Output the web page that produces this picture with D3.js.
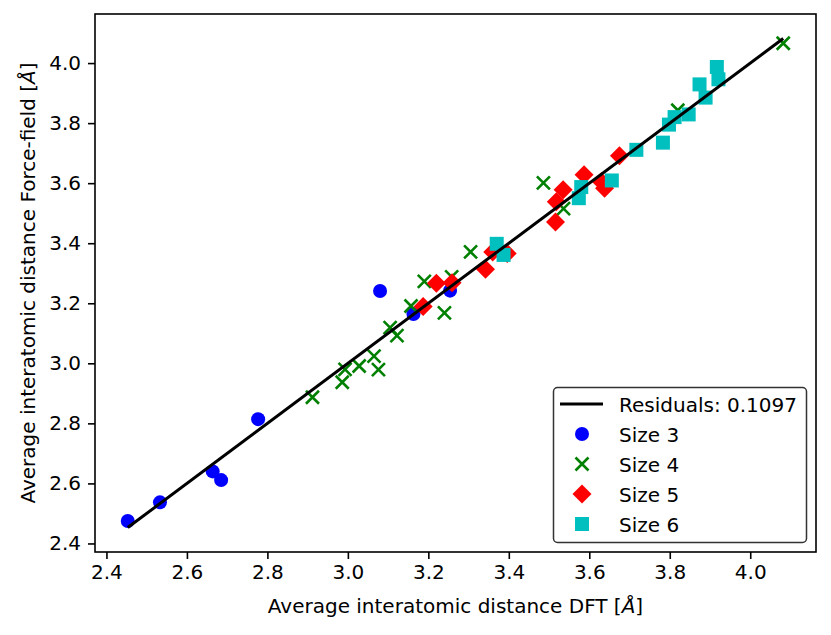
<!DOCTYPE html>
<html>
<head>
<meta charset="utf-8">
<title>Force-field vs DFT interatomic distance</title>
<script src="https://d3js.org/d3.v7.min.js"></script>
<style>
  body { margin: 0; background: #fff; }
  text { font-family: "DejaVu Sans", sans-serif; fill: #000; }
</style>
</head>
<body>
<script>
// values
var size3X = [2.453, 2.533, 2.664, 2.685, 2.777, 3.080, 3.163, 3.254];
var size3Y = [2.475, 2.537, 2.640, 2.611, 2.814, 3.241, 3.164, 3.242];

var size4X = [2.912, 2.986, 2.993, 3.028, 3.065, 3.076, 3.105, 3.122, 3.157, 3.190,
              3.240, 3.258, 3.305, 3.486, 3.536, 3.820, 4.082];
var size4Y = [2.887, 2.937, 2.980, 2.991, 3.024, 2.979, 3.119, 3.092, 3.191, 3.273,
              3.168, 3.288, 3.371, 3.601, 3.515, 3.843, 4.066];

var size5X = [3.187, 3.220, 3.259, 3.342, 3.360, 3.396, 3.516, 3.518, 3.535, 3.587,
              3.630, 3.638, 3.675];
var size5Y = [3.189, 3.267, 3.268, 3.313, 3.371, 3.366, 3.471, 3.538, 3.578, 3.628,
              3.605, 3.583, 3.691];

var size6X = [3.370, 3.387, 3.574, 3.580, 3.656, 3.717, 3.783, 3.798, 3.812, 3.847,
              3.874, 3.889, 3.917, 3.921];
var size6Y = [3.398, 3.361, 3.550, 3.587, 3.609, 3.711, 3.735, 3.795, 3.820, 3.829,
              3.929, 3.885, 3.987, 3.946];

var lineX = [2.453, 4.082];
var lineY = [2.453, 4.082];

var tickValues = [2.4, 2.6, 2.8, 3.0, 3.2, 3.4, 3.6, 3.8, 4.0];
var legendLabels = ["Residuals: 0.1097", "Size 3", "Size 4", "Size 5", "Size 6"];

var W = 831, H = 635;
var margin = { top: 14, right: 15, bottom: 83, left: 95 };
var width = W - margin.left - margin.right;
var height = H - margin.top - margin.bottom;

var svg = d3.select("body").append("svg")
    .attr("width", W)
    .attr("height", H);

var g = svg.append("g")
    .attr("transform", "translate(" + margin.left + "," + margin.top + ")");

// matplotlib style 5% padding around the data
function padded(arrs) {
    var all = [].concat.apply([], arrs);
    var ext = d3.extent(all);
    var pad = (ext[1] - ext[0]) * 0.05;
    return [ext[0] - pad, ext[1] + pad];
}

var x = d3.scaleLinear()
    .domain(padded([size3X, size4X, size5X, size6X, lineX]))
    .range([0, width]);
var y = d3.scaleLinear()
    .domain(padded([size3Y, size4Y, size5Y, size6Y, lineY]))
    .range([height, 0]);

var fmt = d3.format(".1f");

var xAxis = g.append("g")
    .attr("transform", "translate(0," + height + ")")
    .call(d3.axisBottom(x).tickValues(tickValues).tickFormat(fmt).tickSize(7).tickPadding(6));
var yAxis = g.append("g")
    .call(d3.axisLeft(y).tickValues(tickValues).tickFormat(fmt).tickSize(7).tickPadding(7));

[xAxis, yAxis].forEach(function(ax) {
    ax.select(".domain").remove();
    ax.selectAll(".tick line").attr("stroke", "#000").attr("stroke-width", 1.6);
    ax.selectAll(".tick text")
        .style("font-family", "DejaVu Sans")
        .style("font-size", "20px")
        .attr("fill", "#000");
});

// markers
var colors = { s3: "#0000ff", s4: "#008000", s5: "#ff0000", s6: "#00bfbf" };

function circle(sel, cx, cy) {
    sel.append("circle").attr("cx", cx).attr("cy", cy).attr("r", 7)
        .attr("fill", colors.s3);
}
function cross(sel, cx, cy) {
    var r = 6.5;
    sel.append("path")
        .attr("d", "M" + (cx - r) + "," + (cy - r) + "L" + (cx + r) + "," + (cy + r) +
                   "M" + (cx - r) + "," + (cy + r) + "L" + (cx + r) + "," + (cy - r))
        .attr("stroke", colors.s4).attr("stroke-width", 2.6).attr("fill", "none");
}
function diamond(sel, cx, cy) {
    var r = 9.5;
    sel.append("path")
        .attr("d", "M" + cx + "," + (cy - r) + "L" + (cx + r) + "," + cy +
                   "L" + cx + "," + (cy + r) + "L" + (cx - r) + "," + cy + "Z")
        .attr("fill", colors.s5);
}
function square(sel, cx, cy) {
    sel.append("rect").attr("x", cx - 7).attr("y", cy - 7)
        .attr("width", 14).attr("height", 14)
        .attr("fill", colors.s6);
}

var pts = g.append("g");
size3X.forEach(function(v, i) { circle(pts, x(v), y(size3Y[i])); });
size4X.forEach(function(v, i) { cross(pts, x(v), y(size4Y[i])); });
size5X.forEach(function(v, i) { diamond(pts, x(v), y(size5Y[i])); });
size6X.forEach(function(v, i) { square(pts, x(v), y(size6Y[i])); });

// ideal line on top
var line = d3.line()
    .x(function(d) { return x(d[0]); })
    .y(function(d) { return y(d[1]); });
g.append("path")
    .datum(lineX.map(function(v, i) { return [v, lineY[i]]; }))
    .attr("d", line)
    .attr("fill", "none")
    .attr("stroke", "#000")
    .attr("stroke-width", 3);

// frame
g.append("rect")
    .attr("width", width).attr("height", height)
    .attr("fill", "none").attr("stroke", "#000").attr("stroke-width", 1.6);

// axis labels
var xl = svg.append("text")
    .attr("x", margin.left + width / 2)
    .attr("y", 613)
    .attr("text-anchor", "middle")
    .style("font-size", "20px");
xl.append("tspan").text("Average interatomic distance DFT [");
xl.append("tspan").style("font-style", "italic").text("Å");
xl.append("tspan").text("]");

var yl = svg.append("text")
    .attr("transform", "translate(35," + (margin.top + height / 2) + ") rotate(-90)")
    .attr("text-anchor", "middle")
    .style("font-size", "20px");
yl.append("tspan").text("Average interatomic distance Force-field [");
yl.append("tspan").style("font-style", "italic").text("Å");
yl.append("tspan").text("]");

// legend
var lg = svg.append("g").attr("transform", "translate(553.5,387.5)");
lg.append("rect")
    .attr("width", 253).attr("height", 155)
    .attr("rx", 4).attr("ry", 4)
    .attr("fill", "#fff").attr("fill-opacity", 0.8)
    .attr("stroke", "#333").attr("stroke-width", 1.5);

var rowY = d3.scaleLinear().domain([0, 4]).range([16.5, 136.5]);
lg.append("line")
    .attr("x1", 6.5).attr("x2", 49.5)
    .attr("y1", rowY(0)).attr("y2", rowY(0))
    .attr("stroke", "#000").attr("stroke-width", 3);
circle(lg, 28.5, rowY(1));
cross(lg, 28.5, rowY(2));
diamond(lg, 28.5, rowY(3));
square(lg, 28.5, rowY(4));

legendLabels.forEach(function(t, i) {
    lg.append("text")
        .attr("x", 65.5)
        .attr("y", rowY(i) + 7.5)
        .style("font-size", "20px")
        .text(t);
});
</script>
</body>
</html>
